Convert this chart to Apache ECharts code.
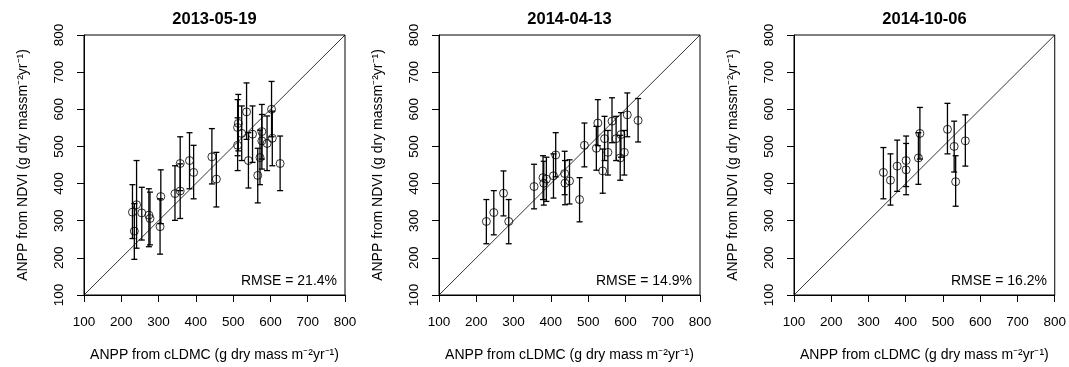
<!DOCTYPE html>
<html><head><meta charset="utf-8">
<script src="https://cdn.jsdelivr.net/npm/echarts@6/dist/echarts.min.js"></script>
<style>html,body{margin:0;padding:0;background:#fff}#c{width:1069px;height:367px}</style>
</head><body><div id="c"></div>
<script>
const titles = ['2013-05-19', '2014-04-13', '2014-10-06'];
const rmseLabels = ['RMSE = 21.4%', 'RMSE = 14.9%', 'RMSE = 16.2%'];
const xTitle = 'ANPP from cLDMC (g dry mass m\u207B\u00B2yr\u207B\u00B9)';
const yTitle = 'ANPP from NDVI (g dry massm\u207B\u00B2yr\u207B\u00B9)';
const axisMin = 100, axisMax = 800, axisStep = 100;
const oneToOne = [[100, 100], [800, 800]];

// Panel 1: 2013-05-19
const x1  = [230, 241, 235, 255, 274, 277, 306, 304, 344, 358, 358, 383, 394, 443, 455, 512, 514, 512, 523, 536, 541, 552, 566, 577, 577, 572, 591, 603, 605, 626];
const y1  = [323, 343, 272, 321, 315, 306, 365, 284, 373, 454, 380, 462, 430, 472, 412, 551, 562, 503, 535, 593, 462, 533, 422, 540, 515, 470, 508, 600, 522, 454];
const lo1 = [252, 226, 196, 248, 230, 235, 292, 210, 301, 381, 306, 386, 359, 399, 337, 475, 488, 435, 462, 519, 388, 457, 348, 466, 439, 397, 435, 526, 448, 381];
const hi1 = [397, 462, 346, 390, 386, 377, 437, 359, 448, 526, 453, 537, 503, 548, 484, 626, 640, 577, 609, 671, 537, 609, 495, 613, 586, 544, 582, 675, 595, 528];

// Panel 2: 2014-04-13
const x2  = [227, 247, 273, 287, 355, 379, 388, 381, 407, 413, 437, 438, 450, 477, 490, 522, 526, 539, 544, 553, 564, 575, 586, 588, 597, 605, 634];
const y2  = [298, 322, 374, 298, 392, 416, 412, 401, 421, 477, 427, 401, 407, 357, 503, 495, 563, 434, 521, 484, 568, 521, 469, 532, 484, 585, 570];
const lo2 = [238, 262, 313, 238, 332, 357, 352, 342, 361, 418, 370, 343, 345, 297, 445, 436, 502, 374, 462, 423, 510, 462, 409, 471, 423, 526, 512];
const hi2 = [357, 381, 434, 357, 452, 475, 471, 460, 480, 537, 487, 462, 464, 416, 563, 554, 626, 493, 581, 543, 631, 581, 530, 591, 543, 644, 629];

// Panel 3: 2014-10-06
const x3  = [340, 359, 377, 401, 401, 434, 438, 512, 530, 534, 560];
const y3  = [430, 409, 447, 462, 437, 469, 535, 546, 500, 405, 515];
const lo3 = [359, 342, 379, 392, 370, 398, 466, 480, 431, 339, 447];
const hi3 = [497, 480, 517, 528, 508, 537, 605, 616, 568, 475, 585];

const panels = [
  {x: x1, y: y1, lo: lo1, hi: hi1},
  {x: x2, y: y2, lo: lo2, hi: hi2},
  {x: x3, y: y3, lo: lo3, hi: hi3}
];

const FONT = '"Liberation Sans", Arial, sans-serif';
const gridLefts = [84, 439, 794];
const gridTop = 35, gridW = 261, gridH = 262;

const chart = echarts.init(document.getElementById('c'), null, {renderer: 'canvas'});

const option = {
  backgroundColor: '#ffffff',
  animation: false,
  textStyle: {fontFamily: FONT},
  title: [], grid: [], xAxis: [], yAxis: [], series: [], graphic: []
};

panels.forEach((p, i) => {
  const left = gridLefts[i];
  option.grid.push({left: left, top: gridTop, width: gridW, height: gridH, show: true,
    borderColor: '#000', borderWidth: 1, backgroundColor: 'transparent', containLabel: false});
  option.title.push({text: titles[i], left: left + gridW / 2, top: 11, textAlign: 'center', padding: 0,
    textStyle: {fontFamily: FONT, fontSize: 16.5, fontWeight: 'bold', color: '#000'}});
  const axisCommon = {
    type: 'value', min: axisMin, max: axisMax, interval: axisStep, gridIndex: i,
    splitLine: {show: false},
    axisLine: {show: true, lineStyle: {color: '#000', width: 1}},
    axisTick: {show: true, inside: false, length: 7, lineStyle: {color: '#000', width: 1}},
    nameLocation: 'middle',
    nameTextStyle: {fontFamily: FONT, fontSize: 14, color: '#000'}
  };
  option.xAxis.push(Object.assign({}, axisCommon, {
    name: xTitle, nameGap: 53,
    axisLabel: {margin: 20.5, fontFamily: FONT, fontSize: 13.5, color: '#000', showMinLabel: true, showMaxLabel: true}
  }));
  option.yAxis.push(Object.assign({}, axisCommon, {
    name: yTitle, nameGap: 54, nameRotate: 90,
    axisLabel: {margin: 17.5, rotate: 90, fontFamily: FONT, fontSize: 13.5, color: '#000', showMinLabel: true, showMaxLabel: true}
  }));
  // 1:1 line
  option.series.push({type: 'line', xAxisIndex: i, yAxisIndex: i, data: oneToOne, symbol: 'none',
    lineStyle: {color: '#000', width: 0.8}, silent: true, z: 1});
  // error bars
  const errData = p.x.map((v, k) => [v, p.lo[k], p.hi[k]]);
  option.series.push({type: 'custom', xAxisIndex: i, yAxisIndex: i, data: errData, z: 2,
    renderItem: function (params, api) {
      const xv = api.value(0);
      const a = api.coord([xv, api.value(1)]);
      const b = api.coord([xv, api.value(2)]);
      const hw = 3;
      const st = {stroke: '#000', lineWidth: 1.3};
      return {type: 'group', children: [
        {type: 'line', shape: {x1: a[0], y1: a[1], x2: b[0], y2: b[1]}, style: st},
        {type: 'line', shape: {x1: a[0] - hw, y1: a[1], x2: a[0] + hw, y2: a[1]}, style: st},
        {type: 'line', shape: {x1: b[0] - hw, y1: b[1], x2: b[0] + hw, y2: b[1]}, style: st}
      ]};
    }
  });
  // points
  option.series.push({type: 'scatter', xAxisIndex: i, yAxisIndex: i,
    data: p.x.map((v, k) => [v, p.y[k]]), symbol: 'circle', symbolSize: 8, z: 3,
    itemStyle: {color: 'rgba(255,255,255,0)', borderColor: '#000', borderWidth: 1}});
  // RMSE annotation
  option.graphic.push({type: 'text', right: 1069 - (left + gridW - 8), top: 274,
    style: {text: rmseLabels[i], fontFamily: FONT, fontSize: 14, fill: '#000'}});
});

chart.setOption(option);
</script>
</body></html>
